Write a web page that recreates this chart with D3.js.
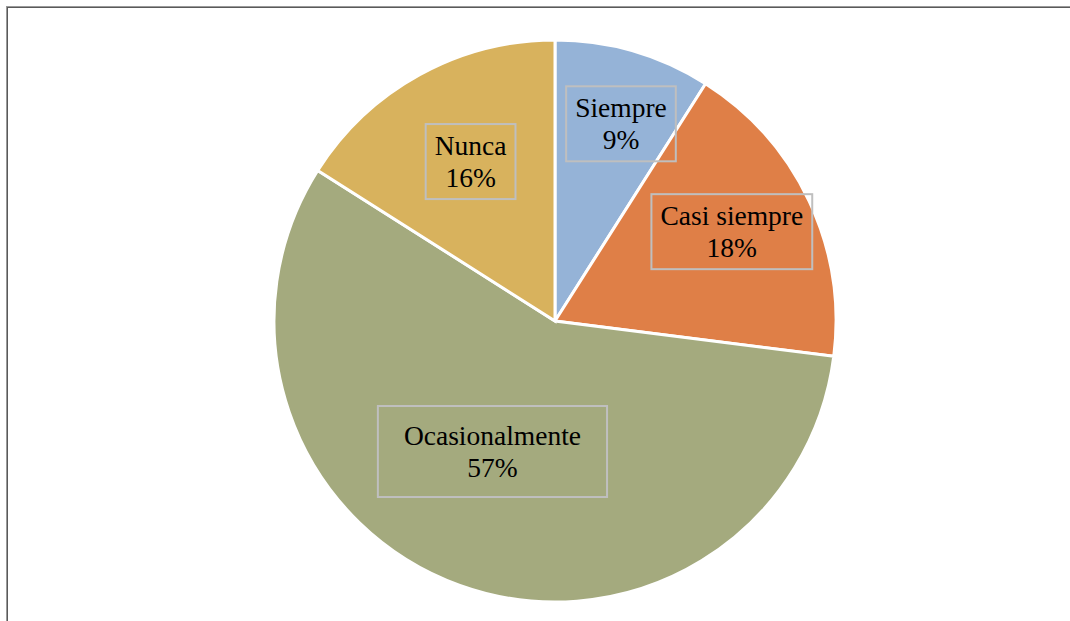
<!DOCTYPE html>
<html>
<head>
<meta charset="utf-8">
<script src="https://cdn.jsdelivr.net/npm/d3@7"></script>
<style>
  html, body { margin: 0; padding: 0; background: #ffffff; }
  svg { display: block; }
  .lbl { font-family: "Liberation Serif", "Times New Roman", "DejaVu Serif", "Noto Serif", serif; }
</style>
</head>
<body>
<svg id="chart" width="1070" height="621"></svg>
<script>
// Frequency of responses
const categories = ["Siempre", "Casi siempre", "Ocasionalmente", "Nunca"];
const percents = [9, 18, 57, 16];
const colors = ["#95b3d7", "#df7f47", "#a4aa7e", "#d8b25d"];

const W = 1070, H = 621;
const cx = 555, cy = 321, R = 281;

// label placement: radius (fraction of R) and angle nudge (degrees) per slice
const labelRadius = [0.74, 0.705, 0.515, 0.642];
const labelAngleNudge = [2.3, -1.6, 5.8, 0.9];
const boxPad = [{x: 9, y: 9}, {x: 9, y: 9}, {x: 26, y: 17}, {x: 9, y: 9}];

const svg = d3.select("#chart");

// outer frame (left and top edges)
svg.append("line").attr("x1", 6.5).attr("y1", 6).attr("x2", 6.5).attr("y2", H)
  .attr("stroke", "#9a9a9a").attr("stroke-width", 1);
svg.append("line").attr("x1", 7.5).attr("y1", 7).attr("x2", 7.5).attr("y2", H)
  .attr("stroke", "#5a5a5a").attr("stroke-width", 1);
svg.append("line").attr("x1", 6).attr("y1", 6.5).attr("x2", W).attr("y2", 6.5)
  .attr("stroke", "#9a9a9a").attr("stroke-width", 1);
svg.append("line").attr("x1", 7).attr("y1", 7.5).attr("x2", W).attr("y2", 7.5)
  .attr("stroke", "#5a5a5a").attr("stroke-width", 1);

const data = categories.map((c, i) => ({ name: c, value: percents[i], color: colors[i], i }));

const pie = d3.pie().value(d => d.value).sort(null);
const arcs = pie(data);
const arc = d3.arc().innerRadius(0).outerRadius(R);

const g = svg.append("g").attr("transform", `translate(${cx},${cy})`);

g.selectAll("path.slice")
  .data(arcs)
  .join("path")
  .attr("class", "slice")
  .attr("d", arc)
  .attr("fill", d => d.data.color)
  .attr("stroke", "#ffffff")
  .attr("stroke-width", 3)
  .attr("stroke-linejoin", "miter");

// data labels with bordered boxes
const lineGap = 32;
arcs.forEach(a => {
  const i = a.data.i;
  const mid = (a.startAngle + a.endAngle) / 2 + labelAngleNudge[i] * Math.PI / 180;
  const r = R * labelRadius[i];
  const lx = Math.sin(mid) * r;
  const ly = -Math.cos(mid) * r;

  const lg = g.append("g").attr("transform", `translate(${lx},${ly})`);
  const txt = lg.append("text")
    .attr("class", "lbl")
    .attr("text-anchor", "middle")
    .style("font-size", "27.5px")
    .attr("fill", "#000000");
  txt.append("tspan").attr("x", 0).attr("y", -lineGap / 2 + 9).text(a.data.name);
  txt.append("tspan").attr("x", 0).attr("y", lineGap / 2 + 9).text(a.data.value + "%");

  const bb = txt.node().getBBox();
  const p = boxPad[i];
  const bh = 2 * lineGap + 2 * p.y - 7;
  lg.insert("rect", "text")
    .attr("x", bb.x - p.x)
    .attr("y", -bh / 2)
    .attr("width", bb.width + 2 * p.x)
    .attr("height", bh)
    .attr("fill", "none")
    .attr("stroke", "#bfbfbf")
    .attr("stroke-width", 2);
});
</script>
</body>
</html>
